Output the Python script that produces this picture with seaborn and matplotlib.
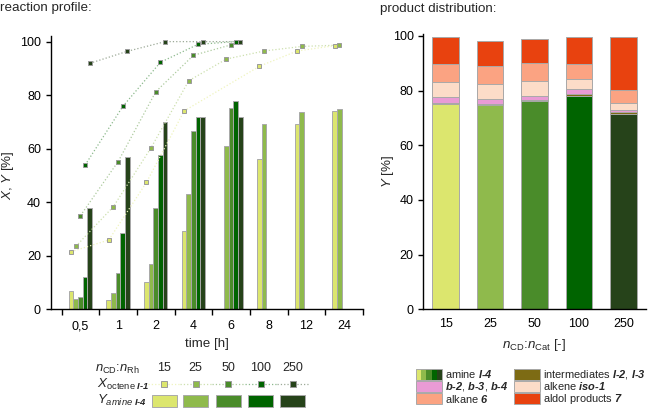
import numpy as np
import pandas as pd
import seaborn as sns
import matplotlib.pyplot as plt
from matplotlib.colors import to_rgb
from matplotlib.lines import Line2D
from matplotlib.patches import Rectangle

nan = np.nan

# reaction profile (left)
times = ["0,5", "1", "2", "4", "6", "8", "12", "24"]
ratios = ["15", "25", "50", "100", "250"]
conv_15 = [21.5, 25.9, 47.4, 74.1, nan, 90.8, 96.5, 98.5]
conv_25 = [23.5, 38.4, 60.4, 85.4, 93.5, 96.5, 98.2, 98.7]
conv_50 = [35.0, 55.2, 81.3, 94.9, 98.8, nan, nan, nan]
conv_100 = [53.9, 75.8, 92.3, 99.0, 100.0, nan, nan, nan]
conv_250 = [91.9, 96.4, 100.0, 100.0, 100.0, nan, nan, nan]
yield_15 = [6.7, 3.5, 10.3, 29.3, nan, 56.2, 69.1, 74.2]
yield_25 = [3.7, 6.0, 16.9, 43.2, 61.0, 69.1, 73.6, 74.7]
yield_50 = [4.7, 13.6, 37.7, 66.5, 75.3, nan, nan, nan]
yield_100 = [12.0, 28.5, 57.7, 71.9, 77.9, nan, nan, nan]
yield_250 = [37.9, 56.9, 70.1, 71.9, 71.9, nan, nan, nan]

# product distribution (right)
cd_ratios = ["15", "25", "50", "100", "250"]
amine = [75.1, 74.6, 76.2, 77.9, 71.6]
intermediates = [0.5, 0.5, 0.5, 1.0, 0.5]
branched = [2.2, 2.0, 1.5, 1.6, 0.8]
alkene_iso = [5.2, 5.2, 5.2, 3.7, 2.5]
alkane = [6.9, 6.8, 6.7, 5.4, 4.8]
aldol = [9.8, 9.1, 8.8, 10.1, 19.5]

green = ["#dce66e", "#8fba4c", "#4a8c2a", "#006400", "#26431a"]
c_inter, c_branch, c_iso, c_alkane, c_aldol = "#7d6b14", "#e99bd5", "#fcdcc8", "#fba382", "#e8420f"
edge = "#a9a9a9"
HY = "\u2010"  # real hyphen inside mathtext


def pale(c, f=0.55):
    r = np.array(to_rgb(c))
    return tuple(r + (1 - r) * f)


def bi(s):
    return r"$\mathbfit{" + s.replace("-", HY) + "}$"


sns.set_style("ticks")
plt.rcParams["font.family"] = ["Liberation Sans", "DejaVu Sans"]
plt.rcParams.update({
    "font.size": 9,
    "mathtext.fontset": "custom",
    "mathtext.rm": "Liberation Sans",
    "mathtext.it": "Liberation Sans:italic",
    "mathtext.bf": "Liberation Sans:bold",
    "mathtext.bfit": "Liberation Sans:italic:bold",
    "axes.edgecolor": "black",
    "axes.linewidth": 1.0,
    "xtick.color": "black",
    "ytick.color": "black",
})

W, H = 651, 413
fig = plt.figure(figsize=(W / 100, H / 100), dpi=100)


def fx(x):
    return x / W


def fy(y):
    return 1 - y / H


# ---------- left: reaction profile ----------
ax1 = fig.add_axes([fx(50.7), fy(309.3), (363 - 50.7) / W, (309.3 - 36) / H])
conv = [conv_15, conv_25, conv_50, conv_100, conv_250]
yields = [yield_15, yield_25, yield_50, yield_100, yield_250]
df = pd.DataFrame({
    "time": np.tile(times, len(ratios)),
    "ratio": np.repeat(ratios, len(times)),
    "Y": np.concatenate(yields),
})
bw = 0.62
sns.barplot(data=df, x="time", y="Y", hue="ratio", order=times, hue_order=ratios,
            palette=green, saturation=1, width=bw, edgecolor=edge, linewidth=0.7,
            errorbar=None, legend=False, ax=ax1)

for j, (vals, c) in enumerate(zip(conv, green)):
    vals = np.array(vals)
    pos = np.arange(len(times)) + (j - 2) * bw / len(ratios)
    m = ~np.isnan(vals)
    ax1.plot(pos[m], vals[m], ls=":", lw=0.9, color=pale(c), zorder=3)
    ax1.plot(pos[m], vals[m], ls="none", marker="s", ms=3.4, mfc=c,
             mec="#9a9a9a", mew=0.7, zorder=4)

ax1.set_xlim(-0.79, 7.5)
ax1.set_ylim(0, 102.1)
ax1.set_yticks([0, 20, 40, 60, 80, 100])
ax1.set_xticks(np.arange(-0.5, 8, 1))
ax1.set_xticklabels([])
ax1.set_xticks(np.arange(len(times)), minor=True)
ax1.set_xticklabels(times, minor=True)
ax1.tick_params(axis="x", which="major", length=4, width=1)
ax1.tick_params(axis="x", which="minor", length=0, pad=8)
ax1.tick_params(axis="y", length=3.5, width=1)
ax1.set_xlabel("time [h]", fontsize=9.6)
ax1.xaxis.set_label_coords(0.5, -0.105)
ax1.set_ylabel("$X$, $Y$ [%]", fontsize=9.6)
ax1.yaxis.set_label_coords(-0.11, 0.49)
sns.despine(ax=ax1)

# ---------- right: product distribution ----------
ax2 = fig.add_axes([fx(423.3), fy(309.3), (645.5 - 423.3) / W, (309.3 - 34.3) / H])
layers = [amine, intermediates, branched, alkene_iso, alkane, aldol]
layer_colors = [None, c_inter, c_branch, c_iso, c_alkane, c_aldol]
cum = np.cumsum(np.array(layers), axis=0)
for k in range(len(layers) - 1, 0, -1):
    sns.barplot(x=cd_ratios, y=cum[k], color=layer_colors[k], saturation=1, width=0.6,
                edgecolor=edge, linewidth=0.7, ax=ax2)
sns.barplot(x=cd_ratios, y=cum[0], hue=cd_ratios, palette=green, saturation=1, width=0.6,
            edgecolor=edge, linewidth=0.7, legend=False, ax=ax2)
ax2.set_xlim(-0.5, 4.5)
ax2.set_ylim(0, 100.6)
ax2.set_yticks([0, 20, 40, 60, 80, 100])
ax2.tick_params(axis="x", length=0, pad=6)
ax2.tick_params(axis="y", length=3.5, width=1)
ax2.set_xlabel(r"$n_\mathrm{CD}$:$n_\mathrm{Cat}$ [-]", fontsize=9.6)
ax2.xaxis.set_label_coords(0.5, -0.1)
ax2.set_ylabel("$Y$ [%]", fontsize=9.6)
ax2.yaxis.set_label_coords(-0.125, 0.5)
sns.despine(ax=ax2)

# ---------- titles ----------
fig.text(fx(0), fy(8), "reaction profile:", fontsize=9.6, va="center")
fig.text(fx(380), fy(9), "product distribution:", fontsize=9.6, va="center")

# ---------- left key table ----------
key_x = [164, 195.7, 228, 260.7, 292.7]
fig.text(fx(95), fy(369), r"$n_\mathrm{CD}$:$n_\mathrm{Rh}$", fontsize=9.4, va="center")
fig.text(fx(97), fy(384), r"$X_{\mathrm{octene}\ \mathbfit{I" + HY + "1}}$", fontsize=9.6, va="center")
fig.text(fx(97), fy(400), r"$Y_{amine\ \mathbfit{I" + HY + "4}}$", fontsize=9.6, va="center")
for lab, x, c in zip(ratios, key_x, green):
    fig.text(fx(x), fy(368), lab, fontsize=9, ha="center", va="center")
    fig.add_artist(Line2D([fx(x - 16), fx(x + 16)], [fy(384), fy(384)], ls=":", lw=0.9,
                          color=pale(c), transform=fig.transFigure))
    fig.add_artist(Line2D([fx(x)], [fy(384)], ls="none", marker="s", ms=4, mfc=c,
                          mec="#9a9a9a", mew=0.7, transform=fig.transFigure))
    fig.add_artist(Rectangle((fx(x - 12.5), fy(407)), 25 / W, 12 / H, facecolor=c,
                             edgecolor=edge, lw=0.7, transform=fig.transFigure))

# ---------- right legend ----------
legend_items = [
    (416, 374.3, [None], "amine " + bi("I-4")),
    (416, 386.5, [c_branch], bi("b-2") + ", " + bi("b-3") + ", " + bi("b-4")),
    (416, 398.7, [c_alkane], "alkane " + bi("6")),
    (514.3, 374.3, [c_inter], "intermediates " + bi("I-2") + ", " + bi("I-3")),
    (514.3, 386.5, [c_iso], "alkene " + bi("iso-1")),
    (514.3, 398.7, [c_aldol], "aldol products " + bi("7")),
]
pw, ph = 26, 10.6
for x, y, cols, lab in legend_items:
    cols = green if cols[0] is None else cols
    sw = pw / len(cols)
    for i, c in enumerate(cols):
        fig.add_artist(Rectangle((fx(x + i * sw), fy(y + ph / 2)), sw / W, ph / H,
                                 facecolor=c, edgecolor="none", transform=fig.transFigure))
    fig.add_artist(Rectangle((fx(x), fy(y + ph / 2)), pw / W, ph / H, facecolor="none",
                             edgecolor=edge, lw=0.7, transform=fig.transFigure))
    fig.text(fx(x + pw + 3), fy(y), lab, fontsize=7.9, va="center")

fig.savefig("out.png", dpi=100)
